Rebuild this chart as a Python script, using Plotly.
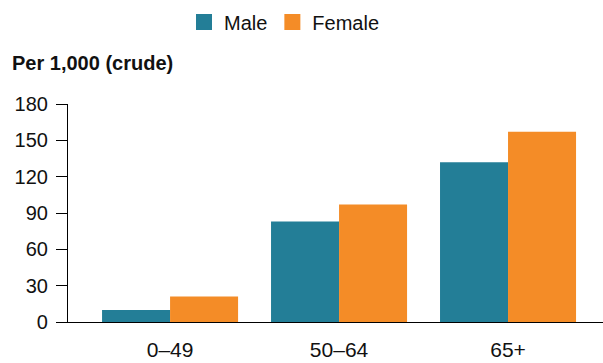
import plotly.graph_objects as go

categories = ["0\u201349", "50\u201364", "65+"]
male = [10, 83, 132]
female = [21, 97, 157]
y_ticks = [0, 30, 60, 90, 120, 150, 180]

MALE_C = "#237E97"
FEMALE_C = "#F48C27"

fig = go.Figure()
fig.add_trace(go.Bar(x=categories, y=male, name="Male", marker_color=MALE_C,
                     marker_line_width=0, showlegend=False))
fig.add_trace(go.Bar(x=categories, y=female, name="Female", marker_color=FEMALE_C,
                     marker_line_width=0, showlegend=False))
# legend entries
fig.add_trace(go.Scatter(x=[None], y=[None], mode="markers", name="Male",
                         marker=dict(symbol="square", size=16, color=MALE_C)))
fig.add_trace(go.Scatter(x=[None], y=[None], mode="markers", name="Female",
                         marker=dict(symbol="square", size=16, color=FEMALE_C)))

W, H = 603, 363
L, R, T, B = 68, 0, 104, 41
pw = W - L - R
ph = H - T - B

fig.update_layout(
    width=W, height=H,
    margin=dict(l=L, r=R, t=T, b=B, pad=0),
    paper_bgcolor="white", plot_bgcolor="white",
    font=dict(family="Liberation Sans, Arial, sans-serif", size=20, color="#111111"),
    barmode="group", bargap=0.195, bargroupgap=0,
    showlegend=True,
    legend=dict(orientation="h", x=(184 - L) / pw, xanchor="left",
                y=(H - B - 22) / ph, yanchor="middle",
                font=dict(size=20), itemsizing="trace", bgcolor="rgba(0,0,0,0)"),
    xaxis=dict(type="category", range=[-0.604, 2.562], showline=True,
               linecolor="black", linewidth=1.2, ticks="", showgrid=False,
               zeroline=False, tickfont=dict(size=21), ticklabelstandoff=9),
    yaxis=dict(range=[0, 180], tickvals=y_ticks, showline=True, linecolor="black",
               linewidth=1.2, ticks="outside", ticklen=11, tickcolor="black",
               tickwidth=1.2, showgrid=False, zeroline=False,
               tickfont=dict(size=20), ticklabelstandoff=4),
    annotations=[dict(text="<b>Per 1,000 (crude)</b>", xref="paper", yref="paper",
                      x=(10 - L) / pw, y=(H - B - 63) / ph, xanchor="left",
                      yanchor="middle", showarrow=False, font=dict(size=20))],
)

fig.write_html("out.html", config={"displayModeBar": False},
               post_script="document.body.style.margin='0';document.body.style.overflow='hidden';")
